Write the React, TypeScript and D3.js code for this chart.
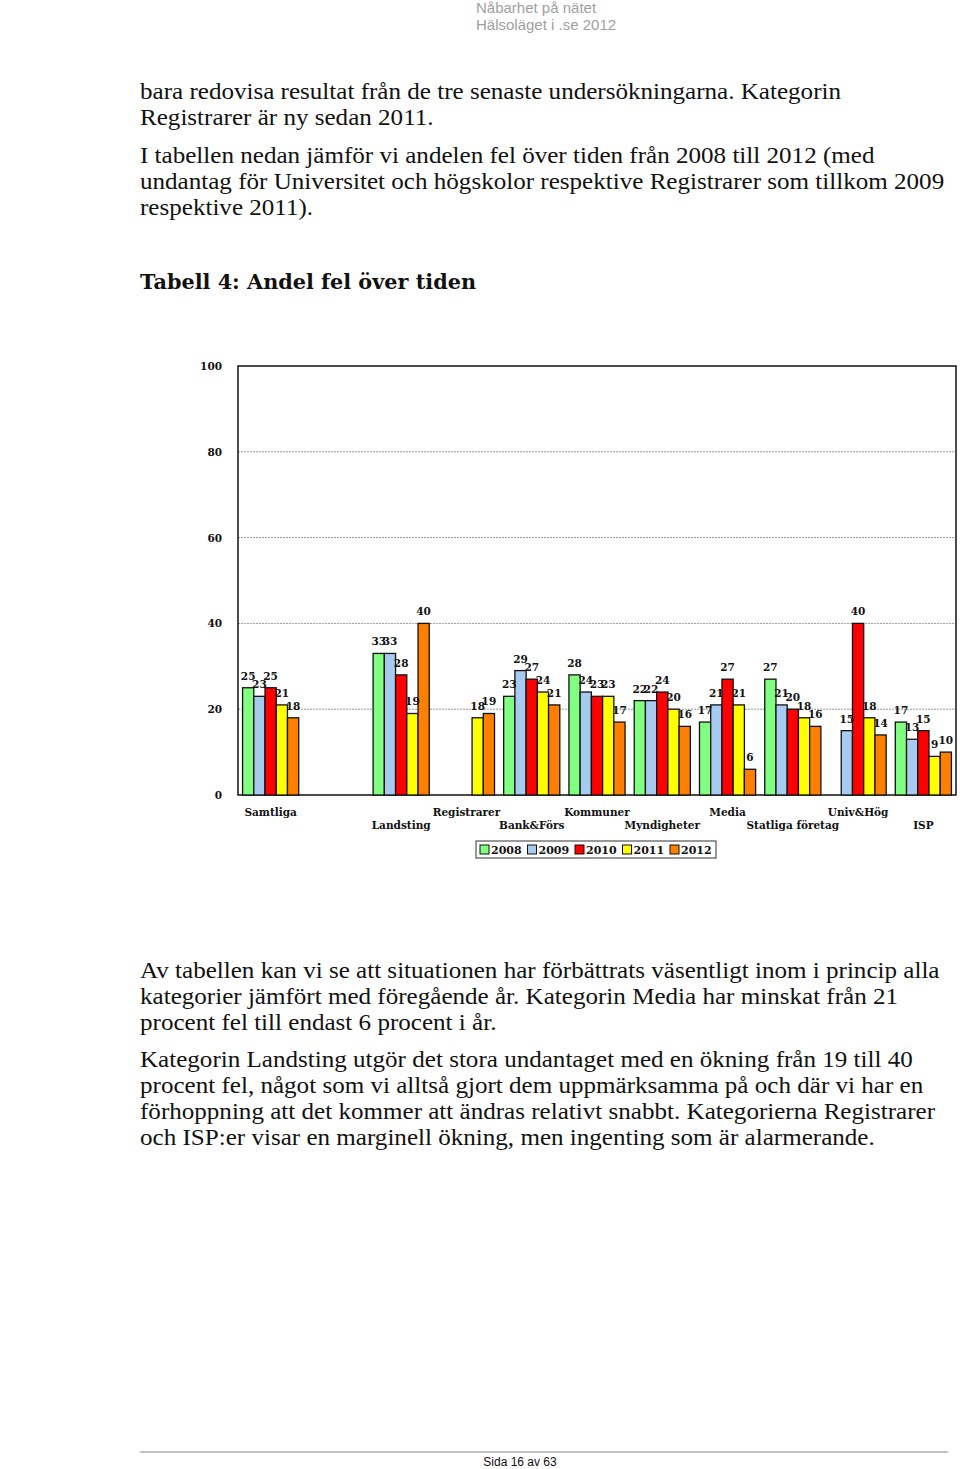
import React from "react";
import * as d3 from "d3";

const categories = ["Samtliga", "", "Landsting", "Registrarer", "Bank&Förs", "Kommuner", "Myndigheter", "Media", "Statliga företag", "Univ&Hög", "ISP"];
const years = ["2008", "2009", "2010", "2011", "2012"];
const v2008 = [25, null, 33, null, 23, 28, 22, 17, 27, null, 17];
const v2009 = [23, null, 33, null, 29, 24, 22, 21, 21, 15, 13];
const v2010 = [25, null, 28, null, 27, 23, 24, 27, 20, 40, 15];
const v2011 = [21, null, 19, 18, 24, 23, 20, 21, 18, 18, 9];
const v2012 = [18, null, 40, 19, 21, 17, 16, 6, 16, 14, 10];
const series = [v2008, v2009, v2010, v2011, v2012];
const colors = ["#80FF80", "#A6CAF0", "#FF0000", "#FFFF00", "#FF8000"];
const yTicks = [0, 20, 40, 60, 80, 100];

const topLines = [
  "bara redovisa resultat från de tre senaste undersökningarna. Kategorin",
  "Registrarer är ny sedan 2011.",
  "I tabellen nedan jämför vi andelen fel över tiden från 2008 till 2012 (med",
  "undantag för Universitet och högskolor respektive Registrarer som tillkom 2009",
  "respektive 2011).",
];
const topY = [99, 125, 163, 189, 215];
const bottomLines = [
  "Av tabellen kan vi se att situationen har förbättrats väsentligt inom i princip alla",
  "kategorier jämfört med föregående år. Kategorin Media har minskat från 21",
  "procent fel till endast 6 procent i år.",
  "Kategorin Landsting utgör det stora undantaget med en ökning från 19 till 40",
  "procent fel, något som vi alltså gjort dem uppmärksamma på och där vi har en",
  "förhoppning att det kommer att ändras relativt snabbt. Kategorierna Registrarer",
  "och ISP:er visar en marginell ökning, men ingenting som är alarmerande.",
];
const bottomY = [978, 1004, 1030, 1067, 1093, 1119, 1145];

export default function App() {
  const L = 238, R = 956, T = 366, B = 795;
  const x0 = d3.scaleBand<string>().domain(categories.map((c, i) => c || "_" + i)).range([L, R]).paddingInner(0.14).paddingOuter(0.07);
  const x1 = d3.scaleBand<string>().domain(years).range([0, x0.bandwidth()]);
  const y = d3.scaleLinear().domain([0, 100]).range([B, T]);
  const chartFont = "'DejaVu Serif', serif";
  const bodyFont = "'Liberation Serif', serif";
  const bodyScale = 1.115;
  let nonEmpty = 0;
  const catLabels = categories.map((c, i) => {
    if (!c) return null;
    const row = nonEmpty % 2;
    nonEmpty++;
    const cx = (x0(c) as number) + x0.bandwidth() / 2;
    return (
      <text key={"c" + i} x={cx} y={row === 0 ? 816 : 829} textAnchor="middle" fontFamily={chartFont} fontWeight="bold" fontSize={10.5} fill="#111">{c}</text>
    );
  });

  return (
    <div style={{ position: "absolute", left: 0, top: 0 }}>
      <svg width={960} height={1469} style={{ display: "block", background: "#fff" }}>
        {/* header */}
        <text x={476} y={13} fontFamily="'Liberation Sans', Arial, sans-serif" fontSize={15} fill="#a0a0a0">Nåbarhet på nätet</text>
        <text x={476} y={30} fontFamily="'Liberation Sans', Arial, sans-serif" fontSize={15} fill="#a0a0a0">Hälsoläget i .se 2012</text>

        {topLines.map((t, i) => (
          <text key={"t" + i} transform={`translate(140,${topY[i]}) scale(${bodyScale},1)`} fontFamily={bodyFont} fontSize={22.5} fill="#111">{t}</text>
        ))}
        <text x={140} y={289} fontFamily={chartFont} fontWeight="bold" fontSize={19.5} fill="#111" textLength={336} lengthAdjust="spacingAndGlyphs">Tabell 4: Andel fel över tiden</text>

        {/* chart grid */}
        {yTicks.filter((t) => t > 0 && t < 100).map((t) => (
          <line key={"g" + t} x1={L} x2={R} y1={y(t)} y2={y(t)} stroke="#999" strokeWidth={1} strokeDasharray="2,1" />
        ))}
        <rect x={L} y={T} width={R - L} height={B - T} fill="none" stroke="#111" strokeWidth={1.5} />
        {yTicks.map((t) => (
          <text key={"yt" + t} x={222} y={y(t) + 4} textAnchor="end" fontFamily={chartFont} fontWeight="bold" fontSize={10.5} fill="#111">{t}</text>
        ))}

        {/* bars */}
        {categories.map((c, ci) => {
          const key = c || "_" + ci;
          const gx = x0(key) as number;
          return series.map((s, si) => {
            const v = s[ci];
            if (v === null || v === undefined) return null;
            const bx = gx + (x1(years[si]) as number);
            const bw = x1.bandwidth();
            return (
              <rect key={ci + "-" + si} x={bx} y={y(v)} width={bw} height={B - y(v)} fill={colors[si]} stroke="#111" strokeWidth={1.3} />
            );
          });
        })}
        {categories.map((c, ci) => {
          const key = c || "_" + ci;
          const gx = x0(key) as number;
          return series.map((s, si) => {
            const v = s[ci];
            if (v === null || v === undefined) return null;
            const bx = gx + (x1(years[si]) as number) + x1.bandwidth() / 2;
            return (
              <text key={"l" + ci + "-" + si} x={bx} y={y(v) - 8} textAnchor="middle" fontFamily={chartFont} fontWeight="bold" fontSize={10.5} fill="#111">{v}</text>
            );
          });
        })}
        {catLabels}

        {/* legend */}
        <rect x={476} y={841} width={240} height={17} fill="#fff" stroke="#333" strokeWidth={1} />
        {years.map((yr, i) => (
          <g key={"lg" + yr} transform={`translate(${480 + i * 47.5},0)`}>
            <rect x={0} y={845} width={9} height={9} fill={colors[i]} stroke="#111" strokeWidth={1} />
            <text x={11} y={854} fontFamily={chartFont} fontWeight="bold" fontSize={11} fill="#111">{yr}</text>
          </g>
        ))}

        {bottomLines.map((t, i) => (
          <text key={"b" + i} transform={`translate(140,${bottomY[i]}) scale(${bodyScale},1)`} fontFamily={bodyFont} fontSize={22.5} fill="#111">{t}</text>
        ))}

        {/* footer */}
        <line x1={140} x2={948} y1={1452} y2={1452} stroke="#888" strokeWidth={1} />
        <text x={520} y={1466} textAnchor="middle" fontFamily="'Liberation Sans', Arial, sans-serif" fontSize={12} fill="#111">Sida 16 av 63</text>
      </svg>
    </div>
  );
}
